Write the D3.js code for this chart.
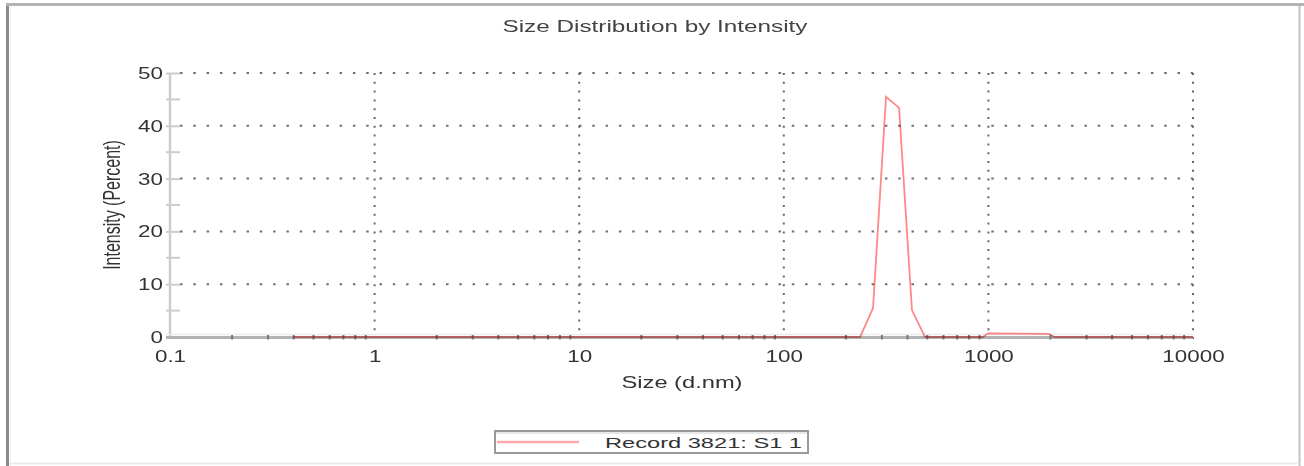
<html>

<head>
    <style>
        body { margin: 0; background: #fff; }
        text { font-family: "Liberation Sans", Arial, sans-serif; }
    </style>
</head>

<body>
    <svg id="chart"></svg>
</body>
<script src="https://cdnjs.cloudflare.com/ajax/libs/d3/7.8.5/d3.min.js"></script>
<script>
    // values
    const sizes = [0.4, 236, 273, 316, 366, 423, 490, 941, 995, 1977, 2100, 10000];
    const intensity = [0, 0, 5.5, 45.5, 43.4, 5.1, 0, 0, 0.7, 0.6, 0, 0];

    const xTicks = [0.1, 1, 10, 100, 1000, 10000];
    const xTickLabels = ["0.1", "1", "10", "100", "1000", "10000"];
    const yTicks = [0, 10, 20, 30, 40, 50];
    const yMinor = [5, 15, 25, 35, 45];

    const title = "Size Distribution by Intensity";
    const xTitle = "Size (d.nm)";
    const yTitle = "Intensity (Percent)";
    const legendLabel = "Record 3821: S1 1";

    const width = 1304,
        height = 466;

    const svg = d3.select('#chart')
        .attr('width', width)
        .attr('height', height);

    const x = d3.scaleLog().domain([0.1, 10000]).range([170, 1193]);
    const y = d3.scaleLinear().domain([0, 50]).range([337, 73]);

    // outer frame
    svg.append('line').attr('x1', 7.5).attr('x2', 7.5).attr('y1', 3).attr('y2', 466)
        .attr('stroke', '#8c8c8c').attr('stroke-width', 3);
    svg.append('line').attr('x1', 10.5).attr('x2', 10.5).attr('y1', 6).attr('y2', 466)
        .attr('stroke', '#f2f2f2').attr('stroke-width', 1);
    svg.append('line').attr('x1', 6).attr('x2', width).attr('y1', 4.5).attr('y2', 4.5)
        .attr('stroke', '#b4b4b4').attr('stroke-width', 3);
    svg.append('line').attr('x1', 1299.5).attr('x2', 1299.5).attr('y1', 6).attr('y2', 466)
        .attr('stroke', '#c4c4c4').attr('stroke-width', 2);
    svg.append('line').attr('x1', 9).attr('x2', 1299).attr('y1', 463.5).attr('y2', 463.5)
        .attr('stroke', '#ebebeb').attr('stroke-width', 2);

    // title
    svg.append('text')
        .attr('x', 655).attr('y', 32)
        .attr('text-anchor', 'middle')
        .attr('font-size', 16)
        .attr('fill', '#444')
        .attr('textLength', 305)
        .attr('lengthAdjust', 'spacingAndGlyphs')
        .text(title);

    // grid
    svg.append('g')
        .selectAll('line')
        .data(yTicks.slice(1))
        .enter().append('line')
        .attr('x1', x(0.1) + 10).attr('x2', x(10000))
        .attr('y1', d => y(d)).attr('y2', d => y(d))
        .attr('stroke', '#707070')
        .attr('stroke-width', 2)
        .attr('stroke-dasharray', '2.5,10.8');

    svg.append('g')
        .selectAll('line')
        .data(xTicks.slice(1))
        .enter().append('line')
        .attr('x1', d => x(d)).attr('x2', d => x(d))
        .attr('y1', y(50)).attr('y2', y(0) + 4)
        .attr('stroke', '#666')
        .attr('stroke-width', 2)
        .attr('stroke-dasharray', '2,6.8');

    // y axis
    const yAxis = svg.append('g')
        .attr('transform', `translate(${x(0.1)},0)`)
        .call(d3.axisLeft(y).tickValues(yTicks).tickSize(4).tickSizeOuter(0));
    yAxis.select('.domain').remove();
    yAxis.selectAll('.tick line')
        .attr('x1', -4).attr('x2', 10)
        .attr('stroke', '#cccccc').attr('stroke-width', 2);
    yAxis.selectAll('.tick text')
        .attr('x', -5)
        .attr('dy', '0.34em')
        .attr('transform', 'scale(1.4,1)')
        .attr('font-size', 16)
        .attr('font-family', '"Liberation Sans", Arial, sans-serif')
        .attr('fill', '#333');

    svg.append('g')
        .selectAll('line')
        .data(yMinor)
        .enter().append('line')
        .attr('x1', x(0.1) - 4).attr('x2', x(0.1) + 10)
        .attr('y1', d => y(d)).attr('y2', d => y(d))
        .attr('stroke', '#cccccc').attr('stroke-width', 2);

    svg.append('line')
        .attr('x1', x(0.1)).attr('x2', x(0.1))
        .attr('y1', y(50)).attr('y2', y(0))
        .attr('stroke', '#cdcdcd').attr('stroke-width', 2.5);

    // x axis baseline
    svg.append('line')
        .attr('x1', x(0.1) - 4).attr('x2', x(10000))
        .attr('y1', y(0) - 2.5).attr('y2', y(0) - 2.5)
        .attr('stroke', '#ececec').attr('stroke-width', 1.5);
    svg.append('line')
        .attr('x1', x(0.1) - 4).attr('x2', x(10000))
        .attr('y1', y(0) + 0.5).attr('y2', y(0) + 0.5)
        .attr('stroke', '#b2b2b2').attr('stroke-width', 3);

    // minor x ticks (2..9 in each decade)
    const minorX = x.ticks().filter(d => xTicks.indexOf(d) < 0);
    const xMinorAxis = svg.append('g')
        .attr('transform', `translate(0,${y(0)})`)
        .call(d3.axisBottom(x).tickValues(minorX).tickSize(0).tickFormat(''));
    xMinorAxis.select('.domain').remove();
    xMinorAxis.selectAll('.tick line')
        .attr('y1', -2).attr('y2', 2.5)
        .attr('stroke', '#777').attr('stroke-width', 2);

    const xAxis = svg.append('g')
        .attr('transform', `translate(0,${y(0)})`)
        .call(d3.axisBottom(x).tickValues(xTicks).tickSize(0)
            .tickFormat((d, i) => xTickLabels[i]));
    xAxis.select('.domain').remove();
    xAxis.selectAll('.tick text')
        .attr('y', 25)
        .attr('dy', 0)
        .attr('transform', 'scale(1.4,1)')
        .attr('font-size', 16)
        .attr('font-family', '"Liberation Sans", Arial, sans-serif')
        .attr('fill', '#333');

    // axis titles
    svg.append('text')
        .attr('x', 682).attr('y', 388)
        .attr('text-anchor', 'middle')
        .attr('font-size', 16)
        .attr('fill', '#333')
        .attr('textLength', 121)
        .attr('lengthAdjust', 'spacingAndGlyphs')
        .text(xTitle);

    svg.append('text')
        .attr('transform', 'translate(120,205) scale(1.45,1) rotate(-90)')
        .attr('text-anchor', 'middle')
        .attr('font-size', 16)
        .attr('fill', '#333')
        .text(yTitle);

    // data line
    const line = d3.line()
        .x((d, i) => x(sizes[i]))
        .y(d => y(d));

    svg.append('path')
        .datum(intensity)
        .attr('d', line)
        .attr('fill', 'none')
        .attr('stroke', '#ff8888')
        .attr('stroke-width', 1.8)
        .style('mix-blend-mode', 'multiply');

    // legend
    svg.append('rect')
        .attr('x', 495).attr('y', 431)
        .attr('width', 313).attr('height', 22)
        .attr('fill', '#fff')
        .attr('stroke', '#9a9a9a').attr('stroke-width', 2);
    svg.append('line')
        .attr('x1', 496).attr('x2', 807).attr('y1', 433).attr('y2', 433)
        .attr('stroke', '#e0e0e0').attr('stroke-width', 1.5);
    svg.append('line')
        .attr('x1', 497).attr('x2', 579).attr('y1', 442).attr('y2', 442)
        .attr('stroke', '#ffaaaa').attr('stroke-width', 2.5);
    svg.append('text')
        .attr('x', 605).attr('y', 447.5)
        .attr('font-size', 15)
        .attr('fill', '#333')
        .attr('textLength', 197)
        .attr('lengthAdjust', 'spacingAndGlyphs')
        .text(legendLabel);
</script>

</html>
